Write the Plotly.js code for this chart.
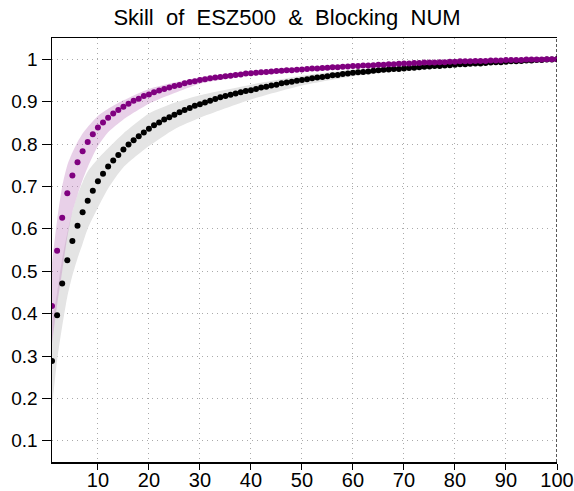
<!DOCTYPE html>
<html>
<head>
<meta charset="utf-8">
<script src="https://cdn.plot.ly/plotly-3.0.1.min.js"></script>
<style>html,body{margin:0;padding:0;background:#fff;}#chart{width:574px;height:491px;}</style>
</head>
<body>
<div id="chart"></div>
<script>
// Lead times (x positions of the dots)
const leads = Array.from({length: 100}, (_, i) => i + 1);

// Skill of blocking NUM (black dots)
const blackSkill = [
  0.288, 0.396, 0.471, 0.526, 0.571, 0.607, 0.639, 0.666, 0.690, 0.712,
  0.730, 0.747, 0.761, 0.774, 0.787, 0.799, 0.809, 0.818, 0.827, 0.836,
  0.844, 0.851, 0.858, 0.863, 0.869, 0.875, 0.880, 0.885, 0.890, 0.894,
  0.898, 0.902, 0.906, 0.910, 0.913, 0.916, 0.919, 0.922, 0.925, 0.927,
  0.930, 0.933, 0.935, 0.938, 0.940, 0.943, 0.945, 0.947, 0.949, 0.951,
  0.953, 0.955, 0.957, 0.958, 0.960, 0.962, 0.963, 0.965, 0.966, 0.968,
  0.969, 0.970, 0.971, 0.973, 0.974, 0.975, 0.976, 0.977, 0.977, 0.978,
  0.979, 0.980, 0.981, 0.982, 0.983, 0.984, 0.984, 0.985, 0.986, 0.987,
  0.988, 0.988, 0.989, 0.990, 0.990, 0.991, 0.992, 0.993, 0.993, 0.994,
  0.995, 0.995, 0.996, 0.997, 0.997, 0.998, 0.998, 0.999, 0.999, 1.000
];

// Skill of ESZ500 (purple dots)
const purpleSkill = [
  0.418, 0.548, 0.626, 0.684, 0.726, 0.757, 0.783, 0.805, 0.823, 0.839,
  0.851, 0.862, 0.872, 0.880, 0.888, 0.895, 0.902, 0.907, 0.913, 0.917,
  0.922, 0.926, 0.930, 0.933, 0.937, 0.939, 0.943, 0.946, 0.948, 0.951,
  0.953, 0.955, 0.957, 0.958, 0.960, 0.961, 0.963, 0.964, 0.966, 0.967,
  0.968, 0.969, 0.970, 0.971, 0.972, 0.973, 0.974, 0.974, 0.975, 0.976,
  0.977, 0.978, 0.978, 0.979, 0.980, 0.981, 0.981, 0.982, 0.983, 0.984,
  0.984, 0.985, 0.985, 0.986, 0.987, 0.987, 0.988, 0.988, 0.989, 0.990,
  0.990, 0.991, 0.991, 0.992, 0.992, 0.992, 0.993, 0.993, 0.994, 0.994,
  0.995, 0.995, 0.995, 0.996, 0.996, 0.996, 0.997, 0.997, 0.997, 0.998,
  0.998, 0.998, 0.998, 0.999, 0.999, 0.999, 0.999, 1.000, 1.000, 1.000
];

// Spread bands (read at selected lead times)
const bandX = [1, 2, 3, 4, 5, 6, 7, 8, 10, 12, 15, 20, 25, 30, 40, 50, 60, 70, 80, 90, 100];
const grayUpper = [0.38, 0.45, 0.53, 0.59, 0.64, 0.68, 0.71, 0.735, 0.765, 0.79, 0.825, 0.872, 0.897, 0.915, 0.94, 0.961, 0.975, 0.984, 0.991, 0.997, 1.0];
const grayLower = [0.18, 0.29, 0.37, 0.44, 0.49, 0.53, 0.565, 0.60, 0.65, 0.695, 0.745, 0.795, 0.835, 0.862, 0.905, 0.938, 0.96, 0.974, 0.984, 0.992, 1.0];
const purpleUpper = [0.52, 0.62, 0.70, 0.75, 0.78, 0.805, 0.825, 0.84, 0.866, 0.883, 0.903, 0.93, 0.945, 0.957, 0.971, 0.979, 0.986, 0.991, 0.995, 0.998, 1.0];
const purpleLower = [0.33, 0.42, 0.50, 0.58, 0.64, 0.68, 0.715, 0.745, 0.795, 0.828, 0.858, 0.895, 0.92, 0.942, 0.962, 0.973, 0.982, 0.989, 0.993, 0.997, 1.0];

const xTicks = [10, 20, 30, 40, 50, 60, 70, 80, 90, 100];
const yTicks = [0.1, 0.2, 0.3, 0.4, 0.5, 0.6, 0.7, 0.8, 0.9, 1];
const yTickText = ['0.1', '0.2', '0.3', '0.4', '0.5', '0.6', '0.7', '0.8', '0.9', '1'];

const FONT = 'Liberation Sans, Arial, Helvetica, sans-serif';

function band(upper, lower, color) {
  return {
    x: bandX.concat(bandX.slice().reverse()),
    y: upper.concat(lower.slice().reverse()),
    type: 'scatter', mode: 'lines', fill: 'toself',
    fillcolor: color, line: {width: 0, shape: 'spline', smoothing: 0.6},
    hoverinfo: 'skip', showlegend: false
  };
}

const traces = [
  band(grayUpper, grayLower, 'rgb(228,228,228)'),
  band(purpleUpper, purpleLower, 'rgba(190,120,190,0.35)'),
  {x: leads, y: blackSkill, type: 'scatter', mode: 'markers',
   marker: {color: '#000000', size: 6}, showlegend: false},
  {x: leads, y: purpleSkill, type: 'scatter', mode: 'markers',
   marker: {color: '#800080', size: 6}, showlegend: false}
];

const layout = {
  width: 574, height: 491,
  margin: {l: 52, r: 17, t: 38, b: 29, pad: 0},
  paper_bgcolor: '#ffffff', plot_bgcolor: '#ffffff',
  showlegend: false,
  title: {
    text: 'Skill\u00a0 of\u00a0 ESZ500\u00a0 &amp;\u00a0 Blocking\u00a0 NUM',
    font: {family: FONT, size: 22, color: '#000'},
    x: 0.5, xref: 'container', xanchor: 'center',
    y: 1 - 17 / 491, yref: 'container', yanchor: 'middle'
  },
  xaxis: {
    range: [1, 100], tickvals: xTicks, ticktext: xTicks.map(String),
    ticks: 'outside', ticklen: 6, tickwidth: 1, tickcolor: '#000',
    ticklabelstandoff: -7,
    showline: true, linecolor: '#000', linewidth: 1.5, mirror: true,
    showgrid: true, gridcolor: '#aaaaaa', griddash: '1px,4px', gridwidth: 1,
    zeroline: false,
    tickfont: {family: FONT, size: 20, color: '#000'}
  },
  yaxis: {
    range: [0.05, 1.05], tickvals: yTicks, ticktext: yTickText,
    ticks: 'outside', ticklen: 9, tickwidth: 1, tickcolor: '#000',
    showline: true, linecolor: '#000', linewidth: 1.5,
    showgrid: true, gridcolor: '#aaaaaa', griddash: '1px,4px', gridwidth: 1,
    zeroline: false,
    tickfont: {family: FONT, size: 19, color: '#000'}
  },
  shapes: [
    {type: 'line', xref: 'x', yref: 'paper', x0: 100, x1: 100, y0: 0, y1: 1,
     line: {color: '#000', width: 1.3, dash: '3px,2px'}}
  ]
};

Plotly.newPlot('chart', traces, layout, {staticPlot: true, displayModeBar: false});
</script>
</body>
</html>
